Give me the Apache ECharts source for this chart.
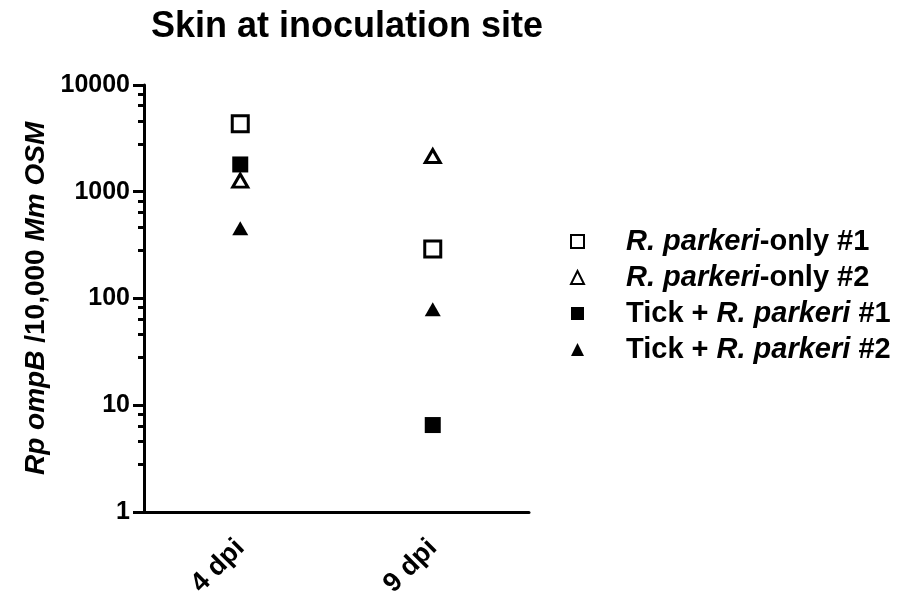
<!DOCTYPE html>
<html>
<head>
<meta charset="utf-8">
<script src="https://cdn.jsdelivr.net/npm/echarts@6/dist/echarts.min.js"></script>
<style>
  html, body { margin: 0; padding: 0; background: #fff; }
  #main { width: 922px; height: 600px; }
</style>
</head>
<body>
<div id="main"></div>
<script>
var days = ['4 dpi', '9 dpi'];
var rpOnly1 = [4330, 290];
var rpOnly2 = [1270, 2160];
var tickRp1 = [1800, 6.5];
var tickRp2 = [455, 79];
var yTicks = [1, 10, 100, 1000, 10000];

var chartDom = document.getElementById('main');
var myChart = echarts.init(chartDom);
var option;

var font = 'Liberation Sans, Arial, sans-serif';
var legendRich = {
    it: { fontFamily: font, fontSize: 29, fontWeight: 'bold', fontStyle: 'italic', color: '#000', lineHeight: 32 },
    b: { fontFamily: font, fontSize: 29, fontWeight: 'bold', color: '#000', lineHeight: 32 }
};
var legendText = {
    'R. parkeri-only #1': '{it|R. parkeri}{b|-only #1}',
    'R. parkeri-only #2': '{it|R. parkeri}{b|-only #2}',
    'Tick + R. parkeri #1': '{b|Tick + }{it|R. parkeri}{b| #1}',
    'Tick + R. parkeri #2': '{b|Tick + }{it|R. parkeri}{b| #2}'
};

function openStyle() {
    return { color: '#fff', borderColor: '#000', borderWidth: 3, opacity: 1 };
}
function solidStyle() {
    return { color: '#000', borderWidth: 0, opacity: 1 };
}

option = {
    animation: false,
    backgroundColor: '#fff',
    title: {
        text: 'Skin at inoculation site',
        left: 342,
        textAlign: 'center',
        top: 4,
        textStyle: { fontFamily: font, fontSize: 36, fontWeight: 'bold', color: '#000' }
    },
    legend: {
        orient: 'vertical',
        left: 565,
        top: 222,
        itemWidth: 13,
        itemHeight: 13,
        itemGap: 7,
        data: ['R. parkeri-only #1', 'R. parkeri-only #2', 'Tick + R. parkeri #1', 'Tick + R. parkeri #2'],
        formatter: function (name) { return legendText[name]; },
        textStyle: { rich: legendRich, padding: [0, 0, 0, 37] }
    },
    grid: {
        left: 144,
        right: 393,
        top: 85,
        bottom: 86,
        containLabel: false
    },
    xAxis: {
        type: 'category',
        data: days,
        boundaryGap: true,
        axisLine: { lineStyle: { color: '#000', width: 3 } },
        axisTick: { alignWithLabel: true, length: 11, lineStyle: { color: '#000', width: 3 } },
        axisLabel: {
            rotate: 45,
            margin: 32,
            fontFamily: font,
            fontSize: 27,
            fontWeight: 'bold',
            color: '#000'
        },
        splitLine: { show: false }
    },
    yAxis: {
        type: 'log',
        logBase: 10,
        min: yTicks[0],
        max: yTicks[yTicks.length - 1],
        name: '{i|Rp ompB }{n|/10,000 }{i|Mm OSM}',
        nameLocation: 'middle',
        nameRotate: 90,
        nameGap: 94,
        nameTextStyle: {
            rich: {
                i: { fontFamily: font, fontSize: 28, fontWeight: 'bold', fontStyle: 'italic', color: '#000' },
                n: { fontFamily: font, fontSize: 28, fontWeight: 'bold', color: '#000' }
            }
        },
        axisLine: { show: true, lineStyle: { color: '#000', width: 3 } },
        axisTick: { show: true, length: 11, lineStyle: { color: '#000', width: 3 } },
        minorTick: { show: true, splitNumber: 5, length: 6, lineStyle: { color: '#000', width: 3 } },
        axisLabel: {
            margin: 14,
            fontFamily: font,
            fontSize: 25,
            fontWeight: 'bold',
            color: '#000',
            formatter: function (v) { return String(v); }
        },
        splitLine: { show: false }
    },
    series: [
        {
            name: 'R. parkeri-only #1',
            type: 'scatter',
            symbol: 'rect',
            symbolSize: 16,
            itemStyle: openStyle(),
            data: rpOnly1
        },
        {
            name: 'R. parkeri-only #2',
            type: 'scatter',
            symbol: 'triangle',
            symbolSize: [15, 13],
            itemStyle: openStyle(),
            data: rpOnly2
        },
        {
            name: 'Tick + R. parkeri #1',
            type: 'scatter',
            symbol: 'rect',
            symbolSize: 16,
            itemStyle: solidStyle(),
            data: tickRp1
        },
        {
            name: 'Tick + R. parkeri #2',
            type: 'scatter',
            symbol: 'triangle',
            symbolSize: [16, 14],
            itemStyle: solidStyle(),
            data: tickRp2
        }
    ]
};

option && myChart.setOption(option);
</script>
</body>
</html>
